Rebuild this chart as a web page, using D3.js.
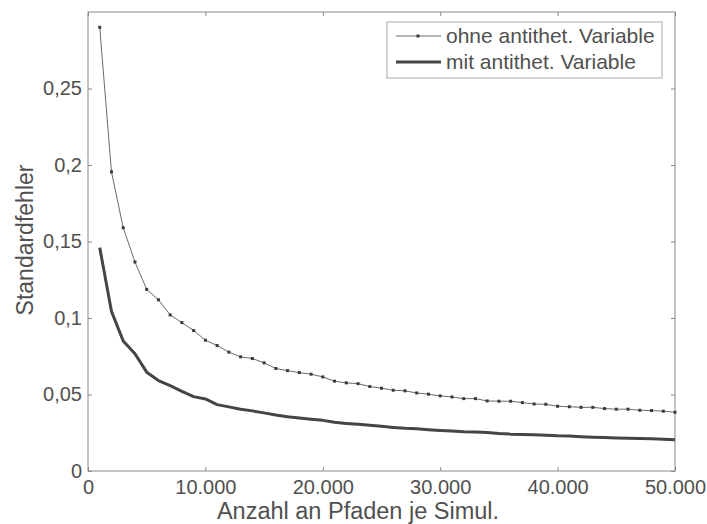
<!DOCTYPE html>
<html>
<head>
<meta charset="utf-8">
<script src="https://cdn.jsdelivr.net/npm/d3@7"></script>
<style>
  html, body { margin: 0; padding: 0; background: #fff; }
  svg { display: block; }
  text { font-family: "Liberation Sans", Arial, sans-serif; fill: #505050; }
</style>
</head>
<body>
<svg id="chart" width="707" height="524"></svg>
<script>
// ---- data ----
const paths = d3.range(1, 51).map(i => i * 1000); // number of paths per simulation (1.000 ... 50.000)
const ohneAntithet = [
  0.290, 0.1955, 0.159, 0.1366, 0.1187, 0.1119, 0.102, 0.097, 0.0918, 0.0855,
  0.082, 0.0777, 0.0746, 0.0735, 0.0707, 0.067, 0.0656, 0.0643, 0.0633, 0.0615,
  0.0587, 0.0576, 0.0571, 0.0552, 0.0541, 0.0528, 0.0524, 0.051, 0.0502, 0.0491,
  0.0484, 0.0473, 0.0473, 0.0458, 0.0456, 0.0456, 0.0447, 0.0438, 0.0436, 0.0423,
  0.042, 0.0416, 0.0416, 0.0408, 0.0404, 0.0404, 0.0397, 0.0395, 0.0391, 0.0384
];
const mitAntithet = [
  0.146, 0.1043, 0.085, 0.0766, 0.0646, 0.0591, 0.0558, 0.0521, 0.0486, 0.0471,
  0.0434, 0.0419, 0.0404, 0.0393, 0.038, 0.0366, 0.0355, 0.0346, 0.0338, 0.0331,
  0.0318, 0.0311, 0.0305, 0.0299, 0.0292, 0.0285, 0.0279, 0.0276, 0.0270, 0.0265,
  0.0261, 0.0257, 0.0255, 0.0251, 0.0245, 0.0241, 0.0239, 0.0237, 0.0234, 0.0230,
  0.0228, 0.0224, 0.0221, 0.0219, 0.0216, 0.0214, 0.0212, 0.0210, 0.0207, 0.0205
];
const xTicks = [0, 10000, 20000, 30000, 40000, 50000];
const xTickLabels = ["0", "10.000", "20.000", "30.000", "40.000", "50.000"];
const yTicks = [0, 0.05, 0.1, 0.15, 0.2, 0.25];
const yTickLabels = ["0", "0,05", "0,1", "0,15", "0,2", "0,25"];
const seriesNames = ["ohne antithet. Variable", "mit antithet. Variable"];
const xLabel = "Anzahl an Pfaden je Simul.";
const yLabel = "Standardfehler";

// ---- layout ----
const W = 707, H = 524;
const m = { left: 88, top: 12, right: 32, bottom: 53 };
const svg = d3.select("#chart");
const x = d3.scaleLinear().domain([0, 50000]).range([m.left, W - m.right]);
const y = d3.scaleLinear().domain([0, 0.3]).range([H - m.bottom, m.top]);

const axisColor = "#8a8a8a";

// frame
svg.append("rect")
  .attr("x", m.left).attr("y", m.top)
  .attr("width", W - m.left - m.right).attr("height", H - m.top - m.bottom)
  .attr("fill", "none").attr("stroke", axisColor).attr("stroke-width", 1);

function styleAxis(g) {
  g.select(".domain").remove();
  g.selectAll(".tick line").attr("stroke", axisColor);
  g.selectAll(".tick text").attr("fill", "#505050").style("font-size", "20px")
    .style("font-family", '"Liberation Sans", Arial, sans-serif');
}

// bottom axis
svg.append("g").attr("transform", `translate(0,${H - m.bottom})`)
  .call(d3.axisBottom(x).tickValues(xTicks).tickFormat((d, i) => xTickLabels[i])
        .tickSizeInner(-4).tickSizeOuter(0).tickPadding(9))
  .call(styleAxis);
// top axis (ticks only)
svg.append("g").attr("transform", `translate(0,${m.top})`)
  .call(d3.axisTop(x).tickValues(xTicks).tickFormat("").tickSizeInner(-4).tickSizeOuter(0))
  .call(styleAxis);
// left axis
svg.append("g").attr("transform", `translate(${m.left},0)`)
  .call(d3.axisLeft(y).tickValues(yTicks).tickFormat((d, i) => yTickLabels[i])
        .tickSizeInner(-4).tickSizeOuter(0).tickPadding(6))
  .call(styleAxis);
// right axis (ticks only)
svg.append("g").attr("transform", `translate(${W - m.right},0)`)
  .call(d3.axisRight(y).tickValues(yTicks).tickFormat("").tickSizeInner(-4).tickSizeOuter(0))
  .call(styleAxis);

// axis labels
svg.append("text").attr("x", 358).attr("y", 519).attr("text-anchor", "middle")
  .style("font-size", "23.5px").text(xLabel);
svg.append("text").attr("transform", `translate(33,240) rotate(-90)`).attr("text-anchor", "middle")
  .style("font-size", "23px").text(yLabel);

// lines
const line = d3.line().x((d, i) => x(paths[i])).y(d => y(d));
svg.append("path").datum(mitAntithet).attr("d", line)
  .attr("fill", "none").attr("stroke", "#454545").attr("stroke-width", 3).attr("stroke-linejoin", "round");
svg.append("path").datum(ohneAntithet).attr("d", line)
  .attr("fill", "none").attr("stroke", "#6a6a6a").attr("stroke-width", 1);
svg.append("g").selectAll("rect").data(ohneAntithet).join("rect")
  .attr("x", (d, i) => x(paths[i]) - 1.5).attr("y", d => y(d) - 1.5)
  .attr("width", 3).attr("height", 3).attr("fill", "#3a3a3a");

// legend
const lg = svg.append("g");
lg.append("rect").attr("x", 387).attr("y", 22).attr("width", 275).attr("height", 56)
  .attr("fill", "#fff").attr("stroke", "#aaaaaa").attr("stroke-width", 1);
lg.append("line").attr("x1", 396).attr("x2", 441).attr("y1", 36).attr("y2", 36)
  .attr("stroke", "#6a6a6a").attr("stroke-width", 1);
lg.append("rect").attr("x", 418 - 1.5).attr("y", 36 - 1.5).attr("width", 3).attr("height", 3).attr("fill", "#3a3a3a");
lg.append("line").attr("x1", 396).attr("x2", 441).attr("y1", 62).attr("y2", 62)
  .attr("stroke", "#454545").attr("stroke-width", 3);
lg.append("text").attr("x", 446).attr("y", 43).style("font-size", "21px").text(seriesNames[0]);
lg.append("text").attr("x", 446).attr("y", 69).style("font-size", "21px").text(seriesNames[1]);
</script>
</body>
</html>
